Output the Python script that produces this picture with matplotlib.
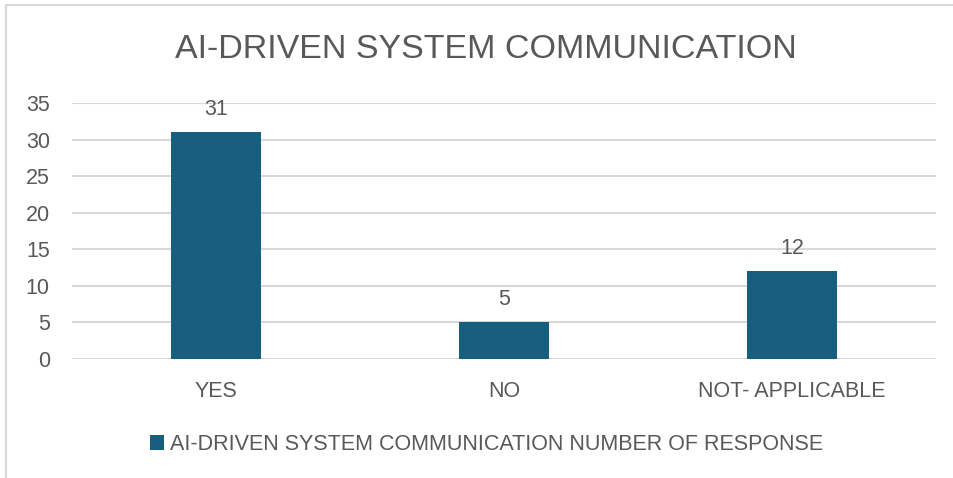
import matplotlib.pyplot as plt
from matplotlib.patches import Rectangle

# survey responses
categories = ["YES", "NO", "NOT- APPLICABLE"]
responses = [31, 5, 12]
series_name = "AI-DRIVEN SYSTEM COMMUNICATION NUMBER OF RESPONSE"
title = "AI-DRIVEN SYSTEM COMMUNICATION"

bar_color = "#175E7F"
text_color = "#595959"
grid_color = "#D9D9D9"

plt.rcParams["font.family"] = ["Liberation Sans", "DejaVu Sans"]

fig = plt.figure(figsize=(9.54, 4.78), dpi=100)
ax = fig.add_axes([0.0755, 0.249, 0.9057, 0.5356])

x = range(len(categories))
bars = ax.bar(x, responses, width=0.3125, color=bar_color, zorder=3,
              label=series_name)

# value labels above bars
for b, v in zip(bars, responses):
    ax.annotate(str(v), (b.get_x() + b.get_width() / 2, v),
                xytext=(0, 9), textcoords="offset points",
                ha="center", va="bottom", fontsize=15.5, color=text_color)

ax.set_xlim(-0.5, len(categories) - 0.5)
ax.set_ylim(0, 35)
ax.set_yticks(range(0, 36, 5))
ax.set_xticks(list(x))
ax.set_xticklabels(categories)
ax.tick_params(axis="both", length=0, labelsize=15.5, labelcolor=text_color)
ax.tick_params(axis="x", pad=16)
ax.tick_params(axis="y", pad=16)
ax.grid(axis="y", color=grid_color, linewidth=1.5, zorder=0)
for s in ax.spines.values():
    s.set_visible(False)

fig.text(0.509, 0.896, title, ha="center", va="center", fontsize=24.5,
         color=text_color)

fig.legend(handles=[bars], labels=[series_name], loc="center",
           bbox_to_anchor=(0.51, 0.07), frameon=False, fontsize=15.5,
           labelcolor=text_color, handlelength=0.65, handleheight=0.65,
           handletextpad=0.3)

# outer chart frame
fig.patches.append(Rectangle((6 / 954, -0.1), 1.2, 1 - 5 / 478 + 0.1,
                             transform=fig.transFigure, fill=False,
                             edgecolor=grid_color, linewidth=1.5))

fig.savefig("out.png", dpi=100)
